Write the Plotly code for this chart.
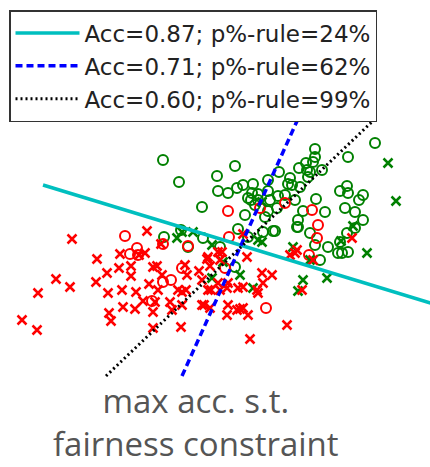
import plotly.graph_objects as go

# ---- data (in pixel-like units) ----
green_o_x = [163,179,217,235,218,228,237,243,253,202,181,164,203,188,220,235,248,263,273,298,310,315,328,338,342,348,320,
             375,348,315,315,313,306,299,307,310,322,308,279,290,268,288,292,300,285,278,268,258,252,248,251,258,270,295,316,
             277,268,265,245,238,275,297,303,325,298,340,347,348,363,359,345,355,363,355,347,340,255]
green_o_y = [160,182,176,166,191,193,188,185,184,207,230,237,238,247,247,267,237,232,231,227,233,245,247,253,253,252,260,
             143,157,149,157,162,163,168,170,172,170,177,172,178,180,184,185,187,195,196,191,194,193,198,200,200,200,200,199,
             208,211,217,215,229,231,227,211,212,220,191,186,193,195,200,208,212,220,228,233,242,205]

green_x_x = [193,177,182,212,223,212,240,258,262,262,293,310,327,303,298,253,367,353,341,388,396]
green_x_y = [232,238,232,245,262,278,275,240,242,202,247,260,278,280,291,288,253,226,241,163,201]

red_o_x = [125,130,137,138,188,163,163,171,152,182,225,228,260,285,312,318,317,309,266,229]
red_o_y = [236,254,248,255,246,244,282,280,301,268,268,211,208,203,210,225,238,255,308,237]

red_x_x = [72,147,161,120,97,139,208,107,119,131,131,56,70,38,96,108,122,136,123,135,109,111,22,37,153,181,157,149,158,162,
           143,155,170,178,182,186,185,187,199,207,210,204,211,182,145,153,218,220,202,208,220,228,202,210,228,237,172,153,
           295,290,313,297,302,272,262,263,257,258,238,227,218,247,243,243,248,227,240,287,250,352,222,243]
red_x_y = [239,231,244,254,259,255,257,273,268,266,276,279,287,293,282,293,290,292,307,309,313,321,320,330,328,327,266,284,290,275,
           301,302,302,290,292,290,265,275,271,259,266,305,290,305,253,267,252,260,280,290,290,283,305,308,305,310,310,312,
           253,255,260,250,290,275,273,283,290,293,288,288,283,257,287,308,315,315,309,325,339,238,252,234]

line_names = ["Acc=0.87; p%-rule=24%", "Acc=0.71; p%-rule=62%", "Acc=0.60; p%-rule=99%"]
cyan_x, cyan_y = [43, 440], [185, 306]
blue_x, blue_y = [182, 302], [376, 110]
black_x, black_y = [106, 377], [376, 117]

caption = "max acc. s.t.<br>fairness constraint"

GREEN = "#008000"
RED = "#FF0000"

fig = go.Figure()
fig.add_trace(go.Scatter(x=green_o_x, y=green_o_y, mode="markers", showlegend=False,
                         marker=dict(symbol="circle-open", size=10, color=GREEN, line=dict(width=2, color=GREEN))))
fig.add_trace(go.Scatter(x=red_o_x, y=red_o_y, mode="markers", showlegend=False,
                         marker=dict(symbol="circle-open", size=10, color=RED, line=dict(width=2, color=RED))))
fig.add_trace(go.Scatter(x=green_x_x, y=green_x_y, mode="markers", showlegend=False,
                         marker=dict(symbol="x-thin-open", size=9, color=GREEN, line=dict(width=2.5, color=GREEN))))
fig.add_trace(go.Scatter(x=red_x_x, y=red_x_y, mode="markers", showlegend=False,
                         marker=dict(symbol="x-thin-open", size=9, color=RED, line=dict(width=2.5, color=RED))))

fig.add_trace(go.Scatter(x=cyan_x, y=cyan_y, mode="lines", name=line_names[0],
                         line=dict(color="#00BFBF", width=3.5)))
fig.add_trace(go.Scatter(x=blue_x, y=blue_y, mode="lines", name=line_names[1],
                         line=dict(color="#0000FF", width=3.5, dash="7px,4px")))
fig.add_trace(go.Scatter(x=black_x, y=black_y, mode="lines", name=line_names[2],
                         line=dict(color="#000000", width=3, dash="2px,3px")))

fig.add_annotation(x=196, y=422, xref="x", yref="y", text=caption, showarrow=False,
                   xanchor="center", yanchor="middle",
                   font=dict(family="Open Sans", size=33, color="#555555"))

fig.update_layout(
    width=430, height=467,
    margin=dict(l=0, r=0, t=0, b=0),
    plot_bgcolor="white", paper_bgcolor="white",
    xaxis=dict(range=[0, 430], visible=False, fixedrange=True),
    yaxis=dict(range=[467, 0], visible=False, fixedrange=True),
    showlegend=True,
    legend=dict(x=9/430, y=1-10/467, xanchor="left", yanchor="top",
                bgcolor="white", bordercolor="#333333", borderwidth=1.5,
                font=dict(family="DejaVu Sans", size=23, color="#222222"),
                itemwidth=64, tracegroupgap=0),
)

fig.write_html("out.html", config={"displayModeBar": False},
               post_script="document.body.style.margin='0';document.body.style.overflow='hidden';")
